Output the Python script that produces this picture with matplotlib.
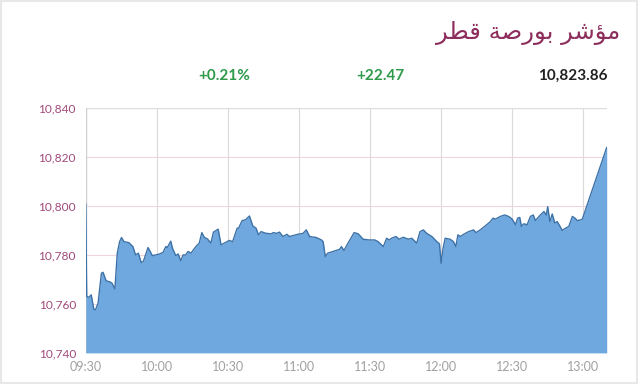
import matplotlib.pyplot as plt
from matplotlib.patches import Rectangle

# minutes after 09:30, index level
minutes = [0, 0.4, 1.3, 2.3, 3.4, 4.1, 5.2, 6.6, 7.3, 8.6, 10.2, 11.1, 12.3, 13.3, 14.3,
           15.1, 16.1, 18.2, 19.9, 21.0, 22.2, 23.4, 24.3, 26.3, 28.1, 30.9, 32.6, 33.8,
           34.4, 35.9, 36.6, 38.0, 39.0, 40.1, 41.1, 42.2, 43.2, 44.4, 46.5, 47.9, 49.0,
           50.0, 51.4, 52.8, 53.9, 55.9, 57.1, 58.5, 60.6, 62.0, 63.9, 64.5, 66.0, 67.4,
           69.1, 70.5, 71.9, 72.9, 74.0, 76.1, 78.3, 79.2, 80.6, 81.8, 83.2, 84.9, 86.0,
           89.5, 91.7, 93.1, 94.5, 97.3, 99.5, 100.2, 101.1, 102.1, 104.4, 107.2, 107.9,
           109.0, 110.7, 113.3, 115.0, 117.1, 119.6, 122.0, 123.4, 125.6, 127.0, 128.1,
           129.1, 130.9, 132.3, 134.0, 136.2, 137.6, 139.7, 141.1, 142.5, 143.9, 146.1,
           148.2, 149.3, 150.0, 150.7, 151.7, 153.8, 155.2, 156.2, 157.1, 158.1, 159.5,
           161.6, 163.7, 164.7, 166.5, 168.6, 170.8, 171.9, 172.9, 175.0, 176.8, 178.5,
           180.0, 181.4, 182.3, 183.2, 183.9, 184.9, 186.3, 187.7, 188.9, 189.8, 191.9,
           193.4, 194.4, 195.0, 195.9, 196.9, 198.0, 199.0, 200.1, 201.1, 202.5, 203.9,
           205.4, 206.5, 207.5, 208.9, 209.6, 219.9]
level = [10800.8, 10763.0, 10762.7, 10763.7, 10757.8, 10757.6, 10760.3, 10772.5, 10772.9,
         10769.4, 10769.0, 10768.4, 10766.1, 10780.7, 10785.4, 10787.1, 10785.4, 10785.0,
         10783.4, 10780.0, 10780.7, 10776.9, 10777.3, 10783.0, 10779.7, 10780.3, 10781.0,
         10783.4, 10783.0, 10785.6, 10782.7, 10779.7, 10780.4, 10777.6, 10780.0, 10780.0,
         10781.4, 10780.7, 10783.4, 10784.8, 10789.1, 10787.2, 10786.5, 10784.8, 10789.3,
         10790.5, 10784.1, 10784.8, 10785.9, 10785.4, 10790.9, 10790.9, 10794.0, 10794.3,
         10795.9, 10791.8, 10790.9, 10788.2, 10789.5, 10788.8, 10788.6, 10789.1, 10788.8,
         10789.3, 10787.5, 10788.4, 10787.5, 10788.4, 10788.8, 10790.2, 10787.5, 10787.1,
         10786.1, 10785.4, 10779.3, 10780.7, 10781.4, 10782.3, 10783.4, 10781.8, 10784.8,
         10789.1, 10788.6, 10786.4, 10786.1, 10786.1, 10785.4, 10783.4, 10786.8, 10786.1,
         10786.8, 10787.5, 10786.4, 10787.2, 10786.4, 10786.8, 10784.8, 10789.5, 10790.2,
         10788.8, 10787.5, 10785.4, 10784.5, 10776.6, 10782.0, 10786.8, 10786.4, 10785.4,
         10783.4, 10788.2, 10787.5, 10788.4, 10789.5, 10790.2, 10789.1, 10790.2, 10791.8,
         10793.6, 10795.0, 10794.6, 10795.7, 10796.3, 10795.7, 10794.6, 10792.3, 10795.0,
         10795.3, 10791.6, 10792.7, 10792.3, 10795.7, 10796.3, 10794.0, 10796.3, 10797.7,
         10796.3, 10799.7, 10793.6, 10796.7, 10793.0, 10793.6, 10791.8, 10790.0, 10790.9,
         10791.6, 10795.7, 10795.0, 10794.0, 10794.3, 10794.6, 10823.86]

x_ticks = [0, 30, 60, 90, 120, 150, 180, 210]
x_labels = ["09:30", "10:00", "10:30", "11:00", "11:30", "12:00", "12:30", "13:00"]
y_ticks = [10740, 10760, 10780, 10800, 10820, 10840]

# "مؤشر بورصة قطر" in shaped presentation forms, visual order
title = "\uFEAE\uFEC4\uFED7 \uFE94\uFEBB\uFEAD\uFEEE\uFE91 \uFEAE\uFEB7\uFE86\uFEE3"
change_pct = "+0.21%"
change_pts = "+22.47"
last_value = "10,823.86"

plt.rcParams['font.family'] = ['Lato', 'DejaVu Sans']

fig = plt.figure(figsize=(6.4, 3.84), dpi=100)
ax = fig.add_axes([0.134, 0.081, 0.814, 0.638])

ax.fill_between(minutes, level, 10740, color='#6ea8de', lw=0)
ax.plot(minutes, level, color='#3d72a8', lw=1)

ax.set_xlim(0, 219.9)
ax.set_ylim(10740, 10840)
ax.set_xticks(x_ticks)
ax.set_xticklabels(x_labels)
ax.set_yticks(y_ticks)
ax.set_yticklabels([f"{v:,}" for v in y_ticks])
ax.tick_params(length=0)
ax.tick_params(axis='y', colors='#a0497a', labelsize=8.6, pad=7)
ax.tick_params(axis='x', colors='#a0a0a0', labelsize=9, pad=6)

for t in x_ticks[1:]:
    ax.axvline(t, color='#dcd8dc', lw=0.8, zorder=0)
for v in y_ticks[1:-1]:
    ax.axhline(v, color='#f0d4de', lw=0.8, zorder=0)
ax.axhline(10840, color='#dddddd', lw=1, zorder=0)
ax.axvline(minutes[0], color='#cfcfcf', lw=1, zorder=0)
for s in ax.spines.values():
    s.set_visible(False)

fig.text(0.969, 0.914, title, family='DejaVu Sans', fontsize=17.5, color='#8c2d5c',
         ha='right', va='center')
fig.text(0.350, 0.802, change_pct, fontsize=11, fontweight='bold', color='#2e9a4a',
         ha='center', va='center')
fig.text(0.594, 0.802, change_pts, fontsize=11, fontweight='bold', color='#2e9a4a',
         ha='center', va='center')
fig.text(0.949, 0.802, last_value, fontsize=11, fontweight='bold', color='#222222',
         ha='right', va='center')

fig.patches.append(Rectangle((0.002, 0.002), 0.994, 0.996, transform=fig.transFigure,
                             fill=False, edgecolor='#e8e8e8', lw=1.5))

fig.savefig('out.png', dpi=100)
